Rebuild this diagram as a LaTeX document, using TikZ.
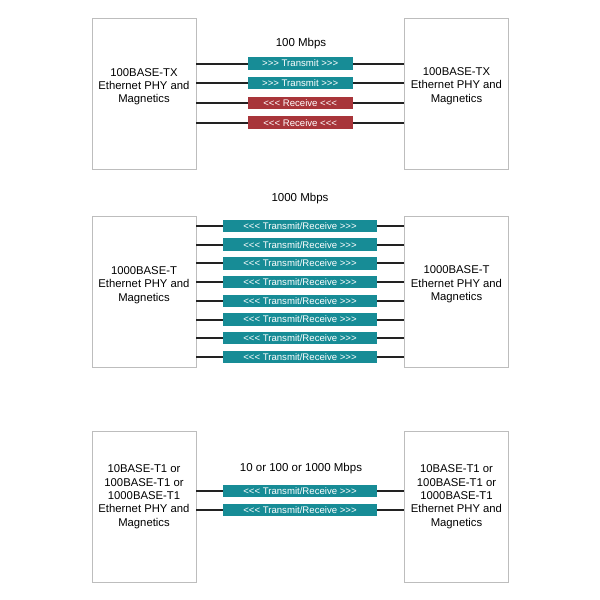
\documentclass[tikz,border=0pt]{standalone}
\usepackage{fontspec}
\setmainfont{Liberation Sans}
\definecolor{boxgray}{HTML}{BDBDBD}
\definecolor{tealbar}{HTML}{178C96}
\definecolor{redbar}{HTML}{A8353A}
\definecolor{wire}{HTML}{222222}
\newcommand{\gtr}{>\kern0pt>\kern0pt>}
\newcommand{\lsr}{<\kern0pt<\kern0pt<}
\begin{document}
\begin{tikzpicture}[x=1pt,y=-1pt,
  phy/.style={draw=boxgray, line width=0.8pt, minimum width=104pt, minimum height=151pt, inner sep=0pt},
  phytext/.style={align=center, font=\fontsize{11.3}{13.3}\selectfont},
  title/.style={font=\fontsize{11.5}{13}\selectfont},
  bar/.style={text=white, minimum height=12.5pt, inner sep=0pt, font=\fontsize{9.6}{11}\selectfont},
  txbar/.style={bar, fill=tealbar},
  rxbar/.style={bar, fill=redbar},
  wireline/.style={draw=wire, line width=2pt}]
\useasboundingbox[fill=white] (0,0) rectangle (600,600);

% ---------- top: 100BASE-TX ----------
\node[phy] (tl) at (144,93.5) {};
\node[phy] (tr) at (456.5,93.5) {};
\node[phytext] (tlt) at (144,86.7) {100BASE-TX\\Ethernet PHY and\\Magnetics};
\node[phytext] (trt) at (456.5,86.2) {100BASE-TX\\Ethernet PHY and\\Magnetics};
\node[title] (ttitle) at (301,44) {100 Mbps};
\foreach \i/\y/\s/\t in {1/63.5/txbar/{\gtr{} Transmit \gtr},2/83.2/txbar/{\gtr{} Transmit \gtr},3/102.9/rxbar/{\lsr{} Receive \lsr},4/122.6/rxbar/{\lsr{} Receive \lsr}}{
  \coordinate (tw\i) at (300,\y);
  \draw[wireline] (tl.east |- tw\i) -- (tr.west |- tw\i);
  \node[\s, minimum width=105pt] (t\i) at (300.2,\y) {\t};
}

% ---------- middle: 1000BASE-T ----------
\node[phy] (ml) at (144,291.5) {};
\node[phy] (mr) at (456.5,291.5) {};
\node[phytext] (mlt) at (144,285) {1000BASE-T\\Ethernet PHY and\\Magnetics};
\node[phytext] (mrt) at (456.5,284.3) {1000BASE-T\\Ethernet PHY and\\Magnetics};
\node[title] (mtitle) at (300,199) {1000 Mbps};
\foreach \i in {1,...,8}{
  \pgfmathsetmacro{\yy}{226+(\i-1)*18.7}
  \coordinate (mw\i) at (300,\yy);
  \draw[wireline] (ml.east |- mw\i) -- (mr.west |- mw\i);
  \node[txbar, minimum width=153.4pt] (m\i) at (300,\yy) {\lsr{} Transmit/Receive \gtr};
}

% ---------- bottom: xBASE-T1 ----------
\node[phy] (bl) at (144,506.5) {};
\node[phy] (br) at (456.5,506.5) {};
\node[phytext] (blt) at (144,496.7) {10BASE-T1 or\\100BASE-T1 or\\1000BASE-T1\\Ethernet PHY and\\Magnetics};
\node[phytext] (brt) at (456.5,496.7) {10BASE-T1 or\\100BASE-T1 or\\1000BASE-T1\\Ethernet PHY and\\Magnetics};
\node[title] (btitle) at (301,469) {10 or 100 or 1000 Mbps};
\foreach \i/\y in {1/491,2/510}{
  \coordinate (bw\i) at (300,\y);
  \draw[wireline] (bl.east |- bw\i) -- (br.west |- bw\i);
  \node[txbar, minimum width=153.4pt] (b\i) at (300,\y) {\lsr{} Transmit/Receive \gtr};
}
\end{tikzpicture}
\end{document}
